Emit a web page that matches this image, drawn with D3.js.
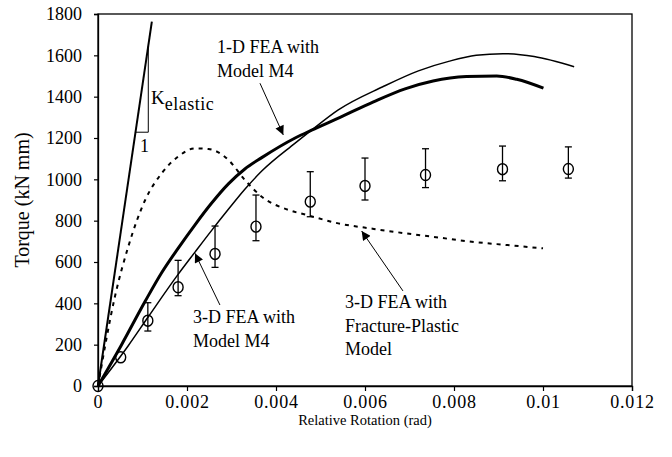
<!DOCTYPE html>
<html>
<head>
<meta charset="utf-8">
<script src="https://cdn.jsdelivr.net/npm/d3@7"></script>
<style>
  body { margin: 0; background: #fff; }
  svg text { font-family: "Liberation Serif", "Times New Roman", serif; fill: #000; }
</style>
</head>
<body>
<div id="chart"></div>
<script>
// tick values and labels
var xTicks = [0, 0.002, 0.004, 0.006, 0.008, 0.01, 0.012];
var xTickLabels = ["0", "0.002", "0.004", "0.006", "0.008", "0.01", "0.012"];
var yTicks = [0, 200, 400, 600, 800, 1000, 1200, 1400, 1600, 1800];
var yTickLabels = ["0", "200", "400", "600", "800", "1000", "1200", "1400", "1600", "1800"];

// experiment (circles with error bars)
var expRot    = [0, 0.00051, 0.00112, 0.0018, 0.00263, 0.00355, 0.00477, 0.0060, 0.00736, 0.00909, 0.01057];
var expTorque = [0, 139, 316, 478, 639, 771, 892, 968, 1021, 1049, 1050];
var expHigh   = [null, null, 403, 608, 774, 924, 1037, 1103, 1148, 1161, 1157];
var expLow    = [null, null, 266, 437, 574, 703, 819, 900, 960, 993, 1006];

// elastic stiffness line
var elasticRot = [0, 0.00121];
var elasticTorque = [0, 1763];

// 1-D FEA with Model M4 (thick)
var oneDRot    = [0, 0.00053, 0.00106, 0.00143, 0.0018, 0.00218, 0.00255, 0.00293, 0.0033, 0.00368, 0.00443, 0.0048, 0.00544, 0.00619, 0.0069, 0.00753, 0.00828, 0.00896, 0.00941, 0.01001];
var oneDTorque = [0, 200, 410, 548, 666, 780, 884, 978, 1050, 1105, 1200, 1238, 1300, 1375, 1438, 1476, 1497, 1500, 1484, 1441];

// 3-D FEA with Model M4 (thin)
var threeDRot    = [0, 0.00068, 0.00113, 0.0018, 0.00218, 0.00255, 0.00293, 0.0033, 0.00368, 0.00443, 0.0048, 0.0054, 0.0064, 0.0072, 0.0079, 0.0085, 0.0091, 0.0098, 0.0107];
var threeDTorque = [0, 195, 335, 540, 648, 752, 855, 952, 1040, 1175, 1238, 1336, 1448, 1525, 1572, 1600, 1608, 1594, 1545];

// 3-D FEA with Fracture-Plastic Model (dashed)
var fracRot    = [0, 0.00038, 0.00068, 0.00106, 0.00143, 0.0018, 0.00218, 0.00248, 0.00293, 0.0033, 0.00368, 0.00428, 0.0047, 0.0054, 0.0062, 0.0069, 0.0077, 0.0084, 0.0092, 0.0100];
var fracTorque = [0, 432, 674, 900, 1029, 1110, 1150, 1147, 1094, 997, 916, 852, 827, 787, 760, 739, 717, 698, 682, 666];

var W = 672, H = 457;
var margin = {top: 14, right: 40, bottom: 71, left: 98};
var width = W - margin.left - margin.right,
    height = H - margin.top - margin.bottom;

var svg = d3.select("#chart").append("svg")
    .attr("width", W)
    .attr("height", H)
    .attr("font-family", "Liberation Serif, serif");

var g = svg.append("g").attr("transform", "translate(" + margin.left + "," + margin.top + ")");

var x = d3.scaleLinear().domain([0, 0.012]).range([0, width]);
var y = d3.scaleLinear().domain([0, 1800]).range([height, 0]);

// frame
g.append("rect")
    .attr("width", width).attr("height", height)
    .attr("fill", "none").attr("stroke", "#000").attr("stroke-width", 1.3);

// axes
var xAxis = g.append("g")
    .attr("transform", "translate(0," + height + ")")
    .call(d3.axisBottom(x).tickValues(xTicks).tickSize(5).tickPadding(4)
          .tickFormat(function(d, i){ return xTickLabels[i]; }));
var yAxis = g.append("g")
    .call(d3.axisLeft(y).tickValues(yTicks).tickSize(4).tickPadding(12)
          .tickFormat(function(d, i){ return yTickLabels[i]; }));

[xAxis, yAxis].forEach(function(a){
  a.attr("font-family", "Liberation Serif, serif");
  a.select(".domain").attr("stroke", "#000").attr("stroke-width", 1.3);
  a.selectAll(".tick line").attr("stroke", "#000").attr("stroke-width", 1.2);
  a.selectAll(".tick text")
    .style("font-size", "18px")
    .attr("fill", "#000");
});
xAxis.selectAll(".tick text").style("letter-spacing", "0.8px");

// axis titles
svg.append("text")
    .attr("x", margin.left + width / 2).attr("y", 425)
    .attr("text-anchor", "middle")
    .style("font-size", "14.5px")
    .text("Relative Rotation (rad)");
svg.append("text")
    .attr("transform", "translate(29," + (margin.top + height / 2) + ") rotate(-90)")
    .attr("text-anchor", "middle")
    .style("font-size", "20px")
    .text("Torque (kN mm)");

function pairs(xs, ys){ return xs.map(function(v, i){ return [v, ys[i]]; }); }

var line = d3.line().x(function(d){ return x(d[0]); }).y(function(d){ return y(d[1]); });
var smooth = d3.line().curve(d3.curveMonotoneX)
    .x(function(d){ return x(d[0]); }).y(function(d){ return y(d[1]); });

// elastic line
g.append("path").datum(pairs(elasticRot, elasticTorque))
    .attr("d", line).attr("fill", "none").attr("stroke", "#000").attr("stroke-width", 2);

// slope triangle
var kSlope = elasticTorque[1] / elasticRot[1];
var triBase = 1228, triX = 0.00113;
g.append("path")
    .attr("d", "M" + x(triBase / kSlope) + "," + y(triBase) + "L" + x(triX) + "," + y(triBase) +
               "L" + x(triX) + "," + y(triX * kSlope))
    .attr("fill", "none").attr("stroke", "#000").attr("stroke-width", 1);
svg.append("text").attr("x", 151).attr("y", 104).style("font-size", "19px")
    .text("K").append("tspan").attr("dy", 6).style("font-size", "18px").style("letter-spacing", "0.5px").text("elastic");
svg.append("text").attr("x", 140).attr("y", 152).style("font-size", "18px").text("1");

// fracture-plastic (dashed)
g.append("path").datum(pairs(fracRot, fracTorque))
    .attr("d", smooth).attr("fill", "none").attr("stroke", "#000")
    .attr("stroke-width", 2).attr("stroke-dasharray", "4,5");

// 3-D FEA M4 (thin)
g.append("path").datum(pairs(threeDRot, threeDTorque))
    .attr("d", smooth).attr("fill", "none").attr("stroke", "#000").attr("stroke-width", 1.5);

// 1-D FEA M4 (thick)
g.append("path").datum(pairs(oneDRot, oneDTorque))
    .attr("d", smooth).attr("fill", "none").attr("stroke", "#000").attr("stroke-width", 3);

// experimental points
var exp = expRot.map(function(v, i){
  return {x: v, y: expTorque[i], hi: expHigh[i], lo: expLow[i]};
});
var pts = g.selectAll(".pt").data(exp).enter().append("g").attr("class", "pt");
pts.filter(function(d){ return d.hi !== null; }).each(function(d){
  var s = d3.select(this), cx = x(d.x);
  s.append("line").attr("x1", cx).attr("x2", cx).attr("y1", y(d.hi)).attr("y2", y(d.lo));
  s.append("line").attr("x1", cx - 3.5).attr("x2", cx + 3.5).attr("y1", y(d.hi)).attr("y2", y(d.hi));
  s.append("line").attr("x1", cx - 3.5).attr("x2", cx + 3.5).attr("y1", y(d.lo)).attr("y2", y(d.lo));
});
pts.selectAll("line").attr("stroke", "#000").attr("stroke-width", 1.3);
pts.append("ellipse")
    .attr("cx", function(d){ return x(d.x); })
    .attr("cy", function(d){ return y(d.y); })
    .attr("rx", 5).attr("ry", 5.5)
    .attr("fill", "none").attr("stroke", "#000").attr("stroke-width", 1.4);

// arrows
svg.append("defs").append("marker")
    .attr("id", "head").attr("viewBox", "0 0 10 10")
    .attr("refX", 10).attr("refY", 5)
    .attr("markerWidth", 10).attr("markerHeight", 9)
    .attr("markerUnits", "userSpaceOnUse")
    .attr("orient", "auto")
  .append("path").attr("d", "M0,0L10,5L0,10Z").attr("fill", "#000");

var arrows = [
  {from: [0.00364, 1465], to: [0.004164, 1215]},
  {from: [0.00274, 392], to: [0.00218, 642]},
  {from: [0.006853, 460], to: [0.005925, 750]}
];
g.selectAll(".arrow").data(arrows).enter().append("line")
    .attr("x1", function(d){ return x(d.from[0]); })
    .attr("y1", function(d){ return y(d.from[1]); })
    .attr("x2", function(d){ return x(d.to[0]); })
    .attr("y2", function(d){ return y(d.to[1]); })
    .attr("stroke", "#000").attr("stroke-width", 1)
    .attr("marker-end", "url(#head)");

// annotation labels
function label(px, py, lines){
  var t = svg.append("text").attr("x", px).attr("y", py).style("font-size", "18px");
  lines.forEach(function(s, i){
    t.append("tspan").attr("x", px).attr("dy", i === 0 ? 0 : 23.5).text(s);
  });
}
label(217, 53, ["1-D FEA with", "Model M4"]);
label(193, 323, ["3-D FEA with", "Model M4"]);
label(345, 308, ["3-D FEA with", "Fracture-Plastic", "Model"]);
</script>
</body>
</html>
